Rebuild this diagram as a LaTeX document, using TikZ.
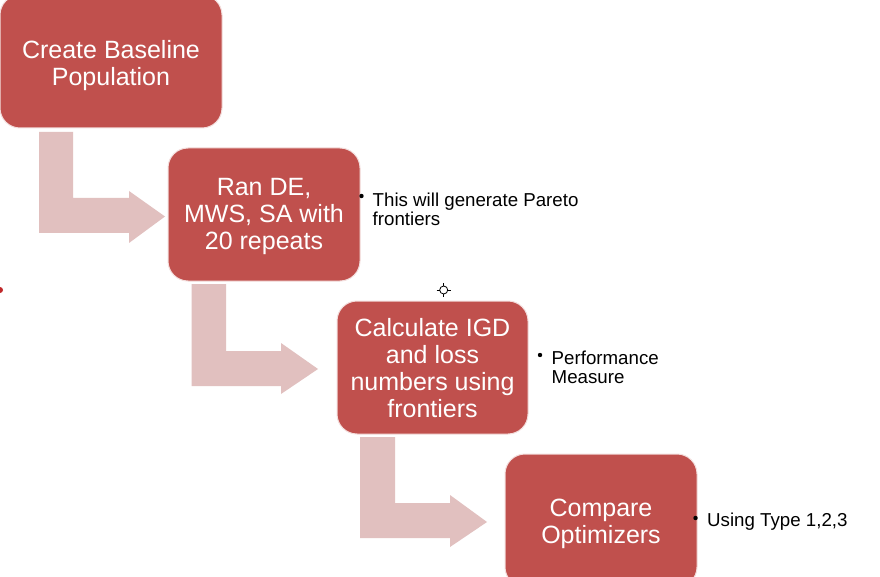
\documentclass[tikz,border=0pt]{standalone}
\usepackage{fontspec}
\setmainfont{Liberation Sans}
\definecolor{boxred}{HTML}{C0504D}
\definecolor{arrpink}{HTML}{E1C0BF}
\definecolor{boxedge}{HTML}{F3DEDD}
\definecolor{dotred}{HTML}{C0282A}
\tikzset{
  stepbox/.style={rectangle, rounded corners=20pt, fill=boxred, draw=boxedge, line width=1pt, inner sep=0pt},
  boxtext/.style={text=white, align=center, inner sep=0pt, font=\fontsize{25}{27}\selectfont},
  bentarrow/.style={fill=arrpink, draw=none},
  sidetext/.style={inner sep=0pt, align=left, text=black, font=\fontsize{18.7}{19.5}\selectfont},
  bulletdot/.style={fill=black},
}
\begin{document}
\begin{tikzpicture}[x=1pt,y=-1pt]
\useasboundingbox (0,0) rectangle (880,577);
\fill[white] (0,0) rectangle (880,577);

% bent arrows
\fill[bentarrow] (39,132) -- (73,132) -- (73,198) -- (129,198) -- (129,191) -- (165,216.5) -- (129,243) -- (129,233) -- (39,233) -- cycle;
\fill[bentarrow] (191.5,284) -- (226,284) -- (226,351) -- (281,351) -- (281,343) -- (318,369) -- (281,394) -- (281,386) -- (191.5,386) -- cycle;
\fill[bentarrow] (360,437) -- (395,437) -- (395,503) -- (450,503) -- (450,495) -- (487,522) -- (450,547) -- (450,538) -- (360,538) -- cycle;

% boxes
\node[stepbox, minimum width=222pt, minimum height=133pt] (b1) at (111,61.5) {};
\node[stepbox, minimum width=192pt, minimum height=133pt] (b2) at (264,214.5) {};
\node[stepbox, minimum width=191pt, minimum height=133pt] (b3) at (432.5,367.5) {};
\node[stepbox, minimum width=192pt, minimum height=133pt] (b4) at (601,520.5) {};
\node[boxtext] (t1) at ([yshift=-4pt]b1.center) {Create Baseline\\Population};
\node[boxtext] (t2) at ([yshift=-2pt]b2.center) {Ran DE,\\MWS, SA with\\20 repeats};
\node[boxtext] (t3) at ([yshift=-1pt]b3.center) {Calculate IGD\\and loss\\numbers using\\frontiers};
\node[boxtext] (t4) at ([yshift=-3pt]b4.center) {Compare\\Optimizers};

% side notes
\fill[bulletdot] (361.5,196) circle (2.2pt);
\node[sidetext, anchor=north west] (n1) at (372.5,192.4) {This will generate Pareto\\frontiers};
\fill[bulletdot] (540,355) circle (2.2pt);
\node[sidetext, anchor=north west] (n2) at (551.5,350.4) {Performance\\Measure};
\fill[bulletdot] (695.5,518) circle (2.2pt);
\node[sidetext, anchor=base west] (n3) at (707,526) {Using Type 1,2,3};

% small marks
\draw[black, line width=0.8pt] (443.7,290) circle (4pt);
\draw[black, line width=0.8pt] (443.7,283) -- (443.7,286) (443.7,294) -- (443.7,297)
  (436.7,290) -- (439.7,290) (447.7,290) -- (450.7,290);
\fill[dotred] (0,290) circle (3pt);
\end{tikzpicture}
\end{document}
